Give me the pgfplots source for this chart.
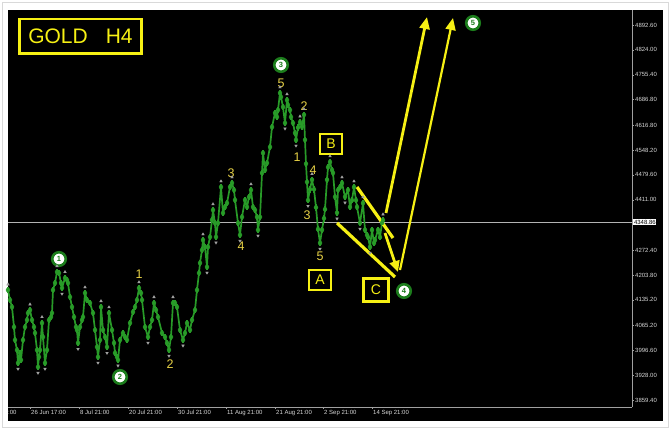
\documentclass[border=0pt]{standalone}
\usepackage{pgfplots}
\usepackage{pgfplotstable}
\pgfplotsset{compat=1.18}
\usepackage{fontspec}
\setmainfont{Liberation Sans}
\usetikzlibrary{arrows.meta}
\definecolor{candle}{RGB}{40,155,40}
\definecolor{ylw}{RGB}{246,240,20}
\definecolor{wavey}{RGB}{232,210,70}
\definecolor{circg}{RGB}{28,125,28}
\definecolor{axgray}{RGB}{160,160,160}
\definecolor{lblgray}{RGB}{215,215,215}
\definecolor{frac}{RGB}{160,160,160}
\tikzset{
  ew/.style={circle, draw=circg, line width=2.6pt, fill=white, minimum size=13.5pt, inner sep=0pt, text=circg, font=\bfseries\fontsize{7.5}{7.5}\selectfont},
  wn/.style={text=wavey, font=\fontsize{12.5}{12.5}\selectfont, inner sep=0pt},
  bx/.style={draw=ylw, line width=2.6pt, fill=black, text=ylw, minimum width=22pt, minimum height=20pt, inner sep=0pt, font=\fontsize{14}{14}\selectfont}
}
\pgfplotstableread{
x y
8 4162.5
10 4134.9
12 4115.7
14 4060.5
15 4024.7
17 3997.2
18 3961.4
20 3988.9
21 3969.6
23 4024.7
25 4060.5
27 4079.8
28 4099.1
30 4107.4
32 4079.8
34 4060.5
35 4044.0
37 3997.2
38 3950.3
39 3977.9
40 3997.2
42 4071.6
43 4033.0
45 3961.4
47 3997.2
49 4079.8
51 4088.1
52 4099.1
53 4162.5
55 4181.8
57 4212.1
59 4209.3
61 4181.8
62 4168.0
65 4195.5
67 4190.0
68 4181.8
70 4143.2
72 4115.7
74 4088.1
76 4060.5
77 4052.3
78 4016.5
80 4060.5
82 4079.8
83 4088.1
85 4154.2
87 4134.9
90 4126.7
93 4099.1
95 4052.3
97 4005.4
98 3977.9
100 4024.7
101 4115.7
103 4052.3
105 4033.0
107 4005.4
109 4099.1
112 4052.3
114 4016.5
115 3988.9
117 3977.9
118 3969.6
120 4024.7
123 4044.0
125 4033.0
127 4024.7
130 4071.6
133 4101.9
135 4115.7
137 4134.9
139 4168.0
141 4154.2
142 4134.9
145 4060.5
148 4033.0
150 4060.5
152 4079.8
154 4126.7
156 4107.4
158 4088.1
162 4044.0
165 4033.0
167 4016.5
169 3997.2
171 4033.0
173 4126.7
175 4126.7
177 4115.7
180 4052.3
183 4024.7
185 4044.0
187 4071.6
190 4052.3
192 4079.8
195 4107.4
197 4162.5
199 4209.3
200 4236.9
202 4272.7
203 4300.3
205 4281.0
207 4225.9
208 4281.0
210 4308.5
212 4355.4
213 4382.9
215 4347.1
216 4308.5
218 4347.1
221 4446.3
223 4374.6
225 4391.2
227 4402.2
230 4446.3
232 4457.3
234 4438.0
235 4410.5
238 4347.1
240 4314.0
242 4363.6
245 4410.5
247 4391.2
249 4418.7
251 4438.0
253 4391.2
255 4382.9
257 4363.6
258 4327.8
260 4363.6
262 4484.9
263 4540.0
265 4493.1
267 4512.4
270 4556.5
272 4611.6
275 4650.2
277 4639.1
278 4658.4
280 4705.3
281 4694.2
283 4666.7
285 4622.6
287 4686.0
288 4672.2
290 4658.4
291 4639.1
293 4622.6
295 4595.1
296 4575.8
298 4610
300 4625
302 4612
304 4645
305 4576
306 4510
307 4460
308 4410
310 4440
312 4466
314 4440
316 4390
318 4330
320 4292
322 4328
324 4360
325 4385
327 4466
328 4501
330 4515
332 4493
333 4485
335 4419
337 4375
338 4438
340 4446
342 4457
345 4419
348 4438
350 4391
352 4410
354 4446
356 4410
357 4391
360 4347
363 4402
365 4328
367 4314
368 4308
370 4281
372 4328
374 4292
375 4300
378 4328
380 4308
382 4347
383 4355
}\pathdata
\begin{document}
\begin{tikzpicture}[x=1pt,y=1pt]
\useasboundingbox (0,0) rectangle (670,429);
\fill[white] (0,0) rectangle (670,429);
\draw[black!15, line width=0.8pt] (2,2) rectangle (668,427);
\fill[black] (8,8) rectangle (663,419);
\begin{axis}[
  at={(8pt,22pt)}, anchor=south west,
  width=624pt, height=397pt, scale only axis,
  xmin=8, xmax=632, ymin=3840.1, ymax=4933.9,
  clip=false,
  axis x line*=bottom, axis y line*=right,
  axis line style={-, axgray, line width=0.6pt},
  tick style={axgray, line width=0.5pt},
  tick align=outside, major tick length=2pt,
  /pgf/number format/fixed, /pgf/number format/fixed zerofill,
  /pgf/number format/precision=2, /pgf/number format/1000 sep={},
  /pgf/number format/assume math mode=true,
  ytick={3859.4,3928.0,3996.6,4065.2,4135.2,4203.8,4272.4,4411.0,4479.6,4548.2,4616.8,4686.8,4755.4,4824.0,4892.6},
  yticklabel style={text=lblgray, font=\fontsize{6}{7}\selectfont, inner sep=1pt},
  xtick={30,79,128,177,226,275,323,372},
  xticklabels={26 Jun 17:00, 8 Jul 21:00, 20 Jul 21:00, 30 Jul 21:00, 11 Aug 21:00, 21 Aug 21:00, 2 Sep 21:00, 14 Sep 21:00},
  xticklabel style={text=lblgray, font=\fontsize{6}{7}\selectfont, anchor=north west, inner sep=1pt},
]
% current price line
\addplot[axgray!80, line width=0.5pt] coordinates {(8,4348.86) (632,4348.86)};
% candle high-low spread
\addplot[candle, only marks, mark=none, error bars/.cd, y dir=both, y fixed=9, error mark=none,
  error bar style={candle, line width=1.1pt}] table[x=x, y=y] {\pathdata};
% price path
\addplot[candle, line width=1.7pt, line join=round] table[x=x, y=y] {\pathdata};
% fractal marks
\addplot[only marks, mark=triangle*, mark size=1.5pt, frac] coordinates {
(8,4178) (30,4123) (42,4088) (57,4228) (65,4212) (85,4170) (101,4132) (109,4115) (139,4184) (154,4143)
(173,4143) (203,4316) (213,4399) (221,4462) (232,4473) (251,4454) (280,4721) (287,4702) (300,4641)
(304,4661) (312,4482) (330,4531) (342,4473) (354,4462) (363,4418) (383,4371)};
\addplot[only marks, mark=triangle*, mark size=1.5pt, frac, mark options={rotate=180}] coordinates {
(18,3945) (38,3934) (45,3945) (62,4152) (78,4000) (98,3962) (107,3989) (118,3954) (148,4017) (169,3981)
(183,4009) (207,4210) (216,4293) (240,4298) (258,4312) (285,4607) (296,4560) (308,4394) (320,4276)
(337,4359) (345,4403) (360,4331) (370,4265)};
% channel lines and arrows
\addplot[ylw, line width=3.2pt] coordinates {(357,4446.3) (393,4305.8)};
\addplot[ylw, line width=3.2pt] coordinates {(337,4347.1) (395,4198.3)};
\addplot[ylw, line width=2.8pt, -{Triangle[length=11pt,width=10pt]}] coordinates {(385,4319.5) (398,4212.1)};
\addplot[ylw, line width=2.8pt, -{Triangle[length=12pt,width=10pt]}] coordinates {(386,4374.6) (427,4914.7)};
\addplot[ylw, line width=2.2pt, -{Triangle[length=12pt,width=10pt]}] coordinates {(400,4217.6) (453,4911.9)};
% wave labels
\node[ew] at (axis cs:59,4247.9) {1};
\node[ew] at (axis cs:120,3922.8) {2};
\node[ew] at (axis cs:281,4782.4) {3};
\node[ew] at (axis cs:404,4159.7) {4};
\node[ew] at (axis cs:473,4898.1) {5};
\node[wn] at (axis cs:139,4206.6) {1};
\node[wn] at (axis cs:170,3958.6) {2};
\node[wn] at (axis cs:231,4484.9) {3};
\node[wn] at (axis cs:241,4283.7) {4};
\node[wn] at (axis cs:281,4732.8) {5};
\node[wn] at (axis cs:297,4528.9) {1};
\node[wn] at (axis cs:304,4669.4) {2};
\node[wn] at (axis cs:307,4369.1) {3};
\node[wn] at (axis cs:313,4493.1) {4};
\node[wn] at (axis cs:320,4256.2) {5};
\node[bx] at (axis cs:320,4190.0) {A};
\node[bx] at (axis cs:331,4564.8) {B};
\node[bx, minimum width=25pt, minimum height=23pt] at (axis cs:376,4162.5) {C};
% current price tag and clipped label
\node[fill=white, text=black, font=\fontsize{6}{7}\selectfont, inner sep=0.8pt, anchor=west] at (axis cs:633,4348.86) {4348.86};
\node[text=lblgray, font=\fontsize{6}{7}\selectfont, anchor=north west, inner sep=1pt] at ([yshift=-2pt]axis cs:7,3840.1) {:00};
\end{axis}
\node[draw=ylw, line width=2.5pt, fill=black, text=ylw, minimum width=122pt, minimum height=34.5pt, inner sep=0pt, font=\fontsize{21}{21}\selectfont] at (80.5,392.5) {GOLD\hspace{18pt}H4};
\end{tikzpicture}
\end{document}
